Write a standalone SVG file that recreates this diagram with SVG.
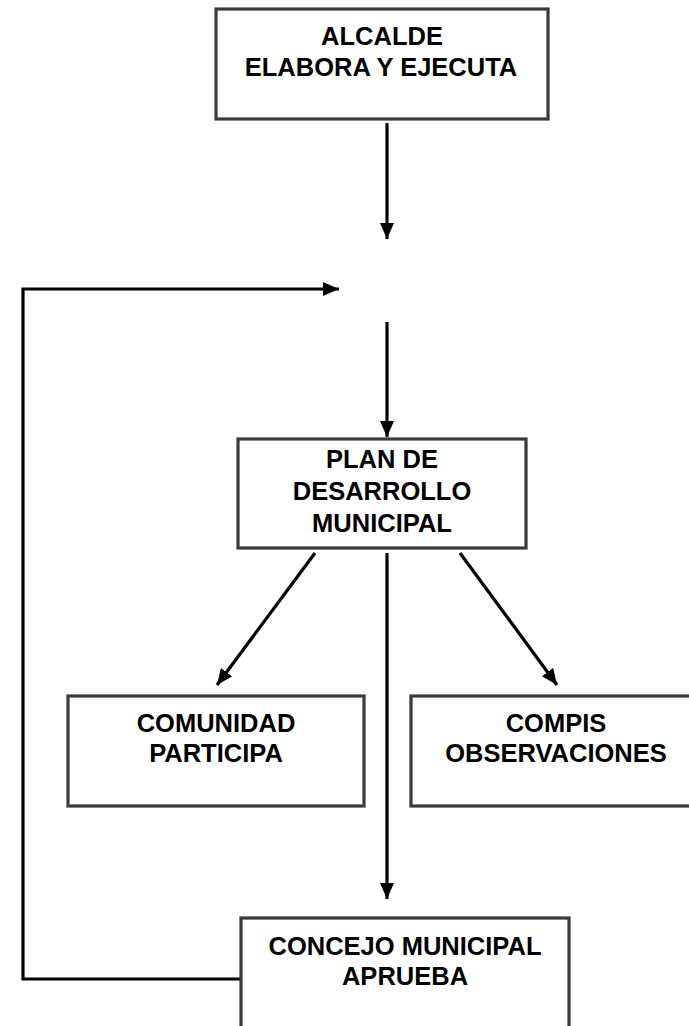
<svg xmlns="http://www.w3.org/2000/svg" width="689" height="1026" viewBox="0 0 689 1026">
<defs>
<style>
.box{fill:#fff;stroke:#3a3a3a;stroke-width:3.2}
.t{font-family:"Liberation Sans",Arial,sans-serif;font-weight:bold;font-size:25.5px;fill:#000;text-anchor:middle}
.c{fill:none;stroke:#000;stroke-width:3.2}
</style>
<marker id="ah" markerWidth="16" markerHeight="14" viewBox="0 0 16 14" refX="16" refY="7" orient="auto" markerUnits="userSpaceOnUse">
<path d="M0,0 L16,7 L0,14 Z" fill="#000"/>
</marker>
</defs>
<rect width="689" height="1026" fill="#fff"/>
<g id="connectors">
<line class="c" x1="387" y1="123" x2="387" y2="239" marker-end="url(#ah)"/>
<polyline class="c" points="241,979 23,979 23,289 339,289" marker-end="url(#ah)"/>
<line class="c" x1="387" y1="322" x2="387" y2="437" marker-end="url(#ah)"/>
<line class="c" x1="315" y1="553" x2="217" y2="685" marker-end="url(#ah)"/>
<line class="c" x1="460" y1="553" x2="557" y2="685" marker-end="url(#ah)"/>
<line class="c" x1="387" y1="553" x2="387" y2="899" marker-end="url(#ah)"/>
</g>
<g id="alcalde">
<rect class="box" x="216" y="9" width="332" height="110"/>
<text class="t" x="382" y="45">ALCALDE</text>
<text class="t" x="381" y="76">ELABORA Y EJECUTA</text>
</g>
<g id="plan">
<rect class="box" x="238" y="439" width="288" height="109"/>
<text class="t" x="382" y="468">PLAN DE</text>
<text class="t" x="382" y="500">DESARROLLO</text>
<text class="t" x="382" y="532">MUNICIPAL</text>
</g>
<g id="comunidad">
<rect class="box" x="68" y="696" width="296" height="110"/>
<text class="t" x="216" y="732">COMUNIDAD</text>
<text class="t" x="216" y="762">PARTICIPA</text>
</g>
<g id="compis">
<rect class="box" x="411" y="696" width="290" height="110"/>
<text class="t" x="556" y="732">COMPIS</text>
<text class="t" x="556" y="762">OBSERVACIONES</text>
</g>
<g id="concejo">
<rect class="box" x="241" y="918" width="328" height="130"/>
<text class="t" x="405" y="955">CONCEJO MUNICIPAL</text>
<text class="t" x="405" y="985">APRUEBA</text>
</g>
</svg>
